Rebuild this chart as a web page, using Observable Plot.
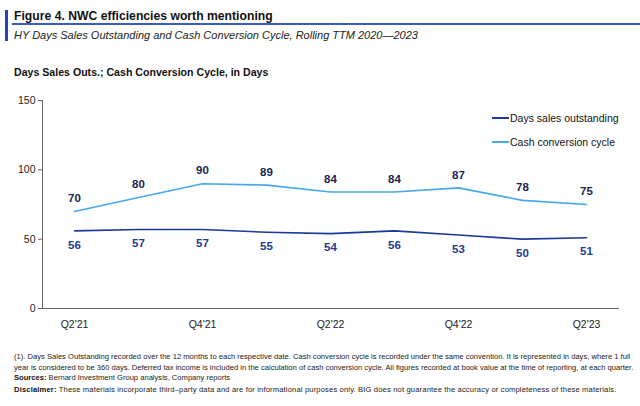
<!DOCTYPE html>
<html><head><meta charset="utf-8">
<script src="https://cdn.jsdelivr.net/npm/d3@7"></script>
<script src="https://cdn.jsdelivr.net/npm/@observablehq/plot@0.6"></script>
<style>
body{margin:0;background:#fff;font-family:"Liberation Sans",Arial,sans-serif;width:640px;height:406px;position:relative;overflow:hidden;}
.abs{position:absolute;white-space:nowrap;}
#bar{left:5px;top:10px;width:3px;height:31px;background:#2546b8;}
#title{left:14px;top:9px;font-weight:bold;font-size:12.2px;color:#111;}
#rule{left:12px;top:23px;width:628px;height:2px;background:#3a5cc0;}
#sub{left:14px;top:29px;font-style:italic;font-size:11px;color:#222;}
#ytitle{left:14px;top:66px;font-weight:bold;font-size:10.6px;color:#111;}
#chart{left:0;top:88px;}
#legend{left:492px;top:106px;font-size:10.5px;color:#111;}
#legend div{height:24px;display:flex;align-items:center;}
#legend span.sw{display:inline-block;width:17px;height:2px;margin-right:1px;}
#notes{left:14px;top:352px;font-size:7.6px;line-height:10.5px;color:#222;}
#notes b{color:#111;}
#notes .disc{margin-top:1.5px;letter-spacing:0.15px;}
</style></head><body>
<div id="bar" class="abs"></div>
<div id="title" class="abs">Figure 4. NWC efficiencies worth mentioning</div>
<div id="rule" class="abs"></div>
<div id="sub" class="abs">HY Days Sales Outstanding and Cash Conversion Cycle, Rolling TTM 2020—2023</div>
<div id="ytitle" class="abs">Days Sales Outs.; Cash Conversion Cycle, in Days</div>
<div id="chart" class="abs"></div>
<div id="legend" class="abs"></div>
<div id="notes" class="abs"></div>
<script>
const quarters = ["Q2'21","Q3'21","Q4'21","Q1'22","Q2'22","Q3'22","Q4'22","Q1'23","Q2'23"];
const dso = [56,57,57,55,54,56,53,50,51];
const ccc = [70,80,90,89,84,84,87,78,75];
const seriesNames = ["Days sales outstanding","Cash conversion cycle"];
const seriesColors = ["#1c3a9e","#45a8f0"];
const labelColors = ["#1f3a96","#1a2456"];
const yTicks = [0,50,100,150];
const xTickLabels = ["Q2'21","Q4'21","Q2'22","Q4'22","Q2'23"];
const noteLines = [
  "(1). Days Sales Outstanding recorded over the 12 months to each respective date. Cash conversion cycle is recorded under the same convention. It is represented in days, where 1 full",
  "year is considered to be 360 days. Deferred tax income is included in the calculation of cash conversion cycle. All figures recorded at book value at the time of reporting, at each quarter."
];
const sources = "Bernard Investment Group analysis, Company reports";
const disclaimer = "These materials incorporate third\u2013party data and are for informational purposes only. BIG does not guarantee the accuracy or completeness of these materials.";

const dsoData = quarters.map((q,i)=>({q, v: dso[i]}));
const cccData = quarters.map((q,i)=>({q, v: ccc[i]}));

const chart = Plot.plot({
  width: 640, height: 250,
  marginLeft: 42, marginRight: 22, marginTop: 12, marginBottom: 30,
  style: {fontFamily: "Liberation Sans, Arial, sans-serif", background: "transparent"},
  x: {type: "point", domain: quarters, padding: 0.5},
  y: {domain: [0,150]},
  marks: [
    Plot.axisY({ticks: yTicks, tickSize: 4, tickPadding: 3, fontSize: 10.5, fill: "#222", stroke: "#666", label: null}),
    Plot.axisX({ticks: xTickLabels, tickSize: 0, tickPadding: 12, fontSize: 10.5, fill: "#222", label: null}),
    Plot.frame({anchor: "left", stroke: "#666"}),
    Plot.frame({anchor: "bottom", stroke: "#666"}),
    Plot.line(cccData, {x: "q", y: "v", stroke: seriesColors[1], strokeWidth: 1.6}),
    Plot.line(dsoData, {x: "q", y: "v", stroke: seriesColors[0], strokeWidth: 1.6}),
    Plot.text(cccData, {x: "q", y: "v", text: d => String(d.v), dy: -13, fill: labelColors[1], fontWeight: "bold", fontSize: 11.5}),
    Plot.text(dsoData, {x: "q", y: "v", text: d => String(d.v), dy: 14, fill: labelColors[0], fontWeight: "bold", fontSize: 11.5})
  ]
});
document.getElementById("chart").appendChild(chart);

const lg = document.getElementById("legend");
seriesNames.forEach((n,i)=>{
  const d = document.createElement("div");
  d.innerHTML = `<span class="sw" style="background:${seriesColors[i]}"></span>${n}`;
  lg.appendChild(d);
});
document.getElementById("notes").innerHTML =
  noteLines.join("<br>") + "<br><b>Sources:</b> " + sources +
  "<div class='disc'><b>Disclaimer:</b> " + disclaimer + "</div>";
</script>
</body></html>
